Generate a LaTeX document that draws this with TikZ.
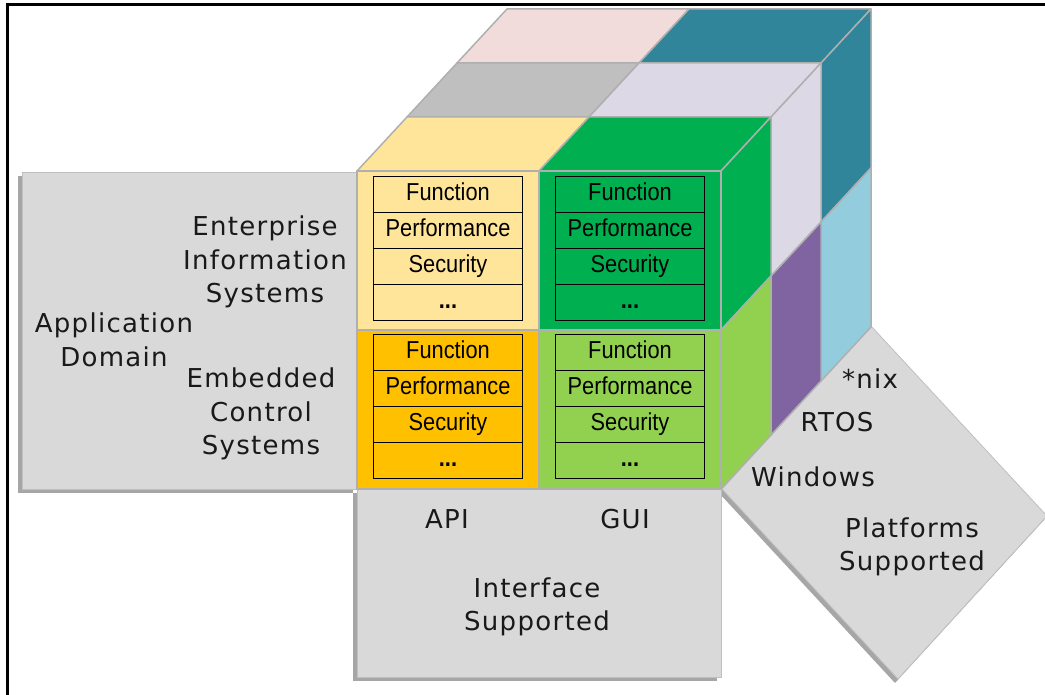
\documentclass[tikz,border=0pt]{standalone}
\usepackage{fontspec}
\setmainfont{Liberation Sans}
\newfontfamily\labelfont[LetterSpace=5]{DejaVu Sans}
\newfontfamily\cellfont[FakeStretch=0.89]{Liberation Sans}
\usepackage{xcolor}
\usepackage{tikz}
\definecolor{panelgray}{RGB}{217, 217, 217}
\definecolor{panelline}{RGB}{191, 191, 191}
\definecolor{shadowgray}{RGB}{166, 166, 166}
\definecolor{edgegray}{RGB}{175, 175, 175}
\definecolor{paleyellow}{RGB}{255, 229, 153}
\definecolor{deepyellow}{RGB}{255, 192, 0}
\definecolor{deepgreen}{RGB}{0, 176, 80}
\definecolor{palegreen}{RGB}{146, 208, 80}
\definecolor{midgray}{RGB}{191, 191, 191}
\definecolor{palelavender}{RGB}{220, 216, 230}
\definecolor{osviolet}{RGB}{128, 100, 162}
\definecolor{palepink}{RGB}{242, 220, 219}
\definecolor{deepteal}{RGB}{49, 133, 155}
\definecolor{paleblue}{RGB}{147, 205, 221}

\tikzset{
  cubeface/.style={draw=edgegray, line width=1.5pt, line join=round},
  panel/.style={draw=panelline, line width=0.8pt, fill=panelgray},
  cellbox/.style={draw=black, line width=0.8pt, minimum width=149pt, minimum height=36pt,
    inner sep=0pt, text height=17pt, text depth=4pt, font=\cellfont\fontsize{24.5}{26}\selectfont},
  dimlabel/.style={inner sep=0pt, align=center, text=black!90,
    font=\labelfont\fontsize{26}{33.5}\selectfont}
}

\begin{document}
\begin{tikzpicture}[x=1pt, y=-1pt]
  \useasboundingbox (0,0) rectangle (1045,695);
  % frame
  \draw[line width=3pt] (7.5,695) -- (7.5,4.5) -- (1045,4.5);
  % Platforms panel
  \fill[shadowgray] (719,493) -- (868,330) -- (1044,520) -- (895,683) -- cycle;
  \draw[panel] (722,489) -- (871,326) -- (1047,516) -- (898,679) -- cycle;
  % Application Domain panel
  \fill[shadowgray] (18,176) rectangle (353,493);
  \draw[panel] (22,172) rectangle (357,489);
  % Interface panel
  \fill[shadowgray] (353,493) rectangle (717,681);
  \draw[panel] (357,489) rectangle (721,677);
  % cube, top strips
  \foreach \d/\cl/\cr in {2/palepink/deepteal, 1/midgray/palelavender, 0/paleyellow/deepgreen} {
    \begin{scope}[shift={(50*\d,-54*\d)}]
      \filldraw[cubeface, fill=\cl] (357,171) -- (539,171) -- ++(50,-54) -- (407,117) -- cycle;
      \filldraw[cubeface, fill=\cr] (539,171) -- (721,171) -- ++(50,-54) -- (589,117) -- cycle;
    \end{scope}
  }
  % cube, side strips
  \foreach \d/\ct/\cb in {2/deepteal/paleblue, 1/palelavender/osviolet, 0/deepgreen/palegreen} {
    \begin{scope}[shift={(50*\d,-54*\d)}]
      \filldraw[cubeface, fill=\ct] (721,171) -- ++(50,-54) -- ++(0,159) -- (721,330) -- cycle;
      \filldraw[cubeface, fill=\cb] (721,330) -- ++(50,-54) -- ++(0,159) -- (721,489) -- cycle;
    \end{scope}
  }
  % cube, front
  \foreach \col/\row/\clr in {0/0/paleyellow, 1/0/deepgreen, 0/1/deepyellow, 1/1/palegreen}
    \filldraw[cubeface, fill=\clr] (357+182*\col,171+159*\row) rectangle +(182,159);
  % quality tables
  \foreach \col/\x in {0/448, 1/630}
    \foreach \row/\y in {0/176, 1/334}
      \foreach \k/\txt in {0/Function, 1/Performance, 2/Security, 3/\textbf{...}}
        \node[cellbox] (cell-\col-\row-\k) at (\x,\y+18+36*\k) {\txt};
  % labels
  \node[dimlabel] (entsys) at (265,262) {Enterprise\\Information\\Systems};
  \node[dimlabel] (appdom) at (114,340) {Application\\Domain};
  \node[dimlabel] (embsys) at (261,414) {Embedded\\Control\\Systems};
  \node[dimlabel] (api) at (447,519) {API};
  \node[dimlabel] (gui) at (625,519) {GUI};
  \node[dimlabel] (iface) at (537,607) {Interface\\Supported};
  \node[dimlabel] (nix) at (870,379) {*nix};
  \node[dimlabel] (rtos) at (837,422) {RTOS};
  \node[dimlabel] (windows) at (813,477) {Windows};
  \node[dimlabel] (platforms) at (912,547) {Platforms\\Supported};
\end{tikzpicture}
\end{document}
